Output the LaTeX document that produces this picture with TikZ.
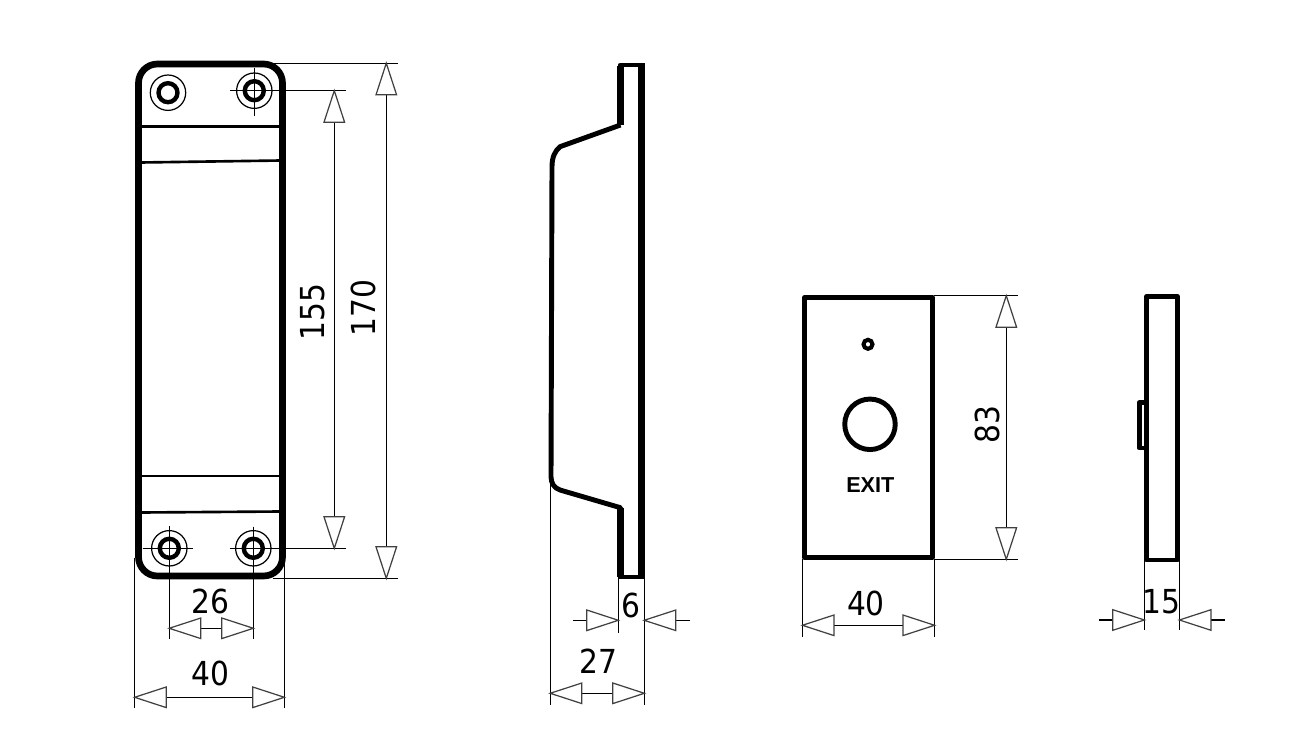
\documentclass[tikz,border=0pt]{standalone}
\usepackage{fontspec}
\setmainfont{DejaVu Sans Condensed}
\newfontfamily\exitfont{Liberation Sans}
\usepackage{tikz}
\usetikzlibrary{arrows.meta}

\begin{document}
\begin{tikzpicture}[scale=0.2,
  >={Triangle[open,length=19.5pt,width=12.5pt,color=black!75]},
  heavy/.style={line width=3.8pt,line join=round},
  medium/.style={line width=2.8pt,line join=round},
  rib/.style={line width=1.5pt},
  thin line/.style={line width=0.7pt},
  dim both/.style={thin line,<->,shorten >=-1.2pt,shorten <=-1.2pt},
  dim in/.style={thin line,->,shorten >=-1.2pt},
  dimtext/.style={font=\fontsize{18.8}{20}\selectfont}]
\tikzstyle{every node}+=[inner sep=0pt]
\useasboundingbox (0,0) rectangle (129,-74.7);
% anchor points of the dimensions
\coordinate (holeA) at (16.8,-9.27);
\coordinate (holeB) at (25.43,-9.07);
\coordinate (holeC) at (16.93,-54.83);
\coordinate (holeD) at (25.33,-54.83);
\coordinate (dimB) at (33.43,-9.07);
\coordinate (dimD) at (33.43,-54.83);
\coordinate (dimC) at (16.93,-62.83);
\coordinate (dimE) at (25.33,-62.83);
\coordinate (topA) at (38.63,-6.33);
\coordinate (topB) at (38.63,-57.83);
\coordinate (baseA) at (13.47,-69.73);
\coordinate (baseB) at (28.43,-69.73);
\coordinate (sideA) at (55.03,-69.33);
\coordinate (sideB) at (64.43,-69.33);
\coordinate (sideC) at (61.83,-62.03);
\coordinate (sideD) at (64.43,-62.03);
\coordinate (sideE) at (57.33,-62.03);
\coordinate (sideF) at (69,-62.03);
\coordinate (plateA) at (80.25,-62.53);
\coordinate (plateB) at (93.45,-62.53);
\coordinate (plateC) at (100.63,-29.57);
\coordinate (plateD) at (100.63,-55.93);
\coordinate (edgeA) at (114.43,-62);
\coordinate (edgeB) at (117.95,-62);
\coordinate (edgeC) at (109.93,-62);
\coordinate (edgeD) at (122.5,-62);
% long plate, front
\draw [heavy] (13.85,-8.3) arc (180:90:1.9) -- (26.35,-6.4) arc (90:0:1.9) -- (28.25,-55.7) arc (0:-90:1.9) -- (15.75,-57.6) arc (-90:-180:1.9) -- cycle;
\draw [rib] (14,-12.63) -- (28.1,-12.63);
\draw [rib] (14,-16.25) -- (28.1,-16.05);
\draw [rib] (14,-47.6) -- (28.1,-47.6);
\draw [rib] (14,-51.25) -- (28.1,-51.15);
\draw [thin line] (holeA) circle (1.77);
\draw [line width=2.5pt] (holeA) circle (0.95);
\draw [thin line] (holeB) circle (1.77);
\draw [line width=2.5pt] (holeB) circle (0.95);
\draw [thin line] (holeC) circle (1.77);
\draw [line width=2.5pt] (holeC) circle (0.95);
\draw [thin line] (holeD) circle (1.77);
\draw [line width=2.5pt] (holeD) circle (0.95);
\draw [thin line] (23,-9.07) -- (34.57,-9.07);
\draw [thin line] (25.43,-6.8) -- (25.43,-11.57);
\draw [thin line] (14.27,-54.83) -- (19.27,-54.83);
\draw [thin line] (16.93,-52.6) -- (16.93,-63.9);
\draw [thin line] (23,-54.83) -- (34.57,-54.83);
\draw [thin line] (25.33,-52.67) -- (25.33,-63.9);
\draw [thin line] (27,-6.33) -- (39.77,-6.33);
\draw [thin line] (27.3,-57.83) -- (39.77,-57.83);
\draw [thin line] (13.47,-55.77) -- (13.47,-70.83);
\draw [thin line] (28.43,-56.3) -- (28.43,-70.83);
\draw [dim both] (dimB) -- (dimD);
\draw [dim both] (topA) -- (topB);
\draw [dim both] (dimC) -- (dimE);
\draw [dim both] (baseA) -- (baseB);
\node [dimtext,rotate=90] (height155) at (31.3,-31.2) {155};
\node [dimtext,rotate=90] (height170) at (36.3,-30.8) {170};
\node [dimtext] (width26) at (21.07,-60.1) {26};
\node [dimtext] (width40) at (21.07,-67.3) {40};
% long plate, side
\draw [medium] (62.05,-12.5) -- (62.05,-6.5) -- (64.17,-6.5);
\draw [medium] (62.05,-57.7) -- (62.05,-50.77) -- (56,-49) .. controls (55.4,-48.8) and (55.1,-48.3) .. (55.1,-47.67) -- (55.2,-16.67) .. controls (55.2,-15.7) and (55.5,-15.1) .. (56,-14.67) -- (62.05,-12.5);
\draw [heavy] (62.05,-12.5) -- (62.05,-6.6);
\draw [heavy] (62.05,-50.77) -- (62.05,-57.7);
\draw [heavy] (64.17,-6.3) -- (64.17,-57.9);
\draw [medium] (61.75,-57.7) -- (64.45,-57.7);
\draw [thin line] (55.03,-47.6) -- (55.03,-70.5);
\draw [thin line] (64.43,-57.8) -- (64.43,-70.5);
\draw [thin line] (61.83,-57.8) -- (61.83,-63.27);
\draw [dim in] (sideE) -- (sideC);
\draw [dim in] (sideF) -- (sideD);
\draw [dim both] (sideA) -- (sideB);
\node [dimtext] (depth6) at (63.1,-60.5) {6};
\node [dimtext] (depth27) at (59.83,-66.17) {27};
% button plate, front
\draw [medium] (80.45,-29.77) rectangle (93.25,-55.72);
\node [draw,circle,line width=2.3pt,minimum size=0.18cm] (led) at (86.8,-34.43) {};
\node [draw,circle,line width=2.8pt,minimum size=1.01cm] (button) at (87,-42.43) {};
\node [font=\exitfont\fontsize{12.3}{13}\selectfont\bfseries] (exit) at (87.03,-48.5) {EXIT};
\draw [thin line] (93.4,-29.57) -- (101.8,-29.57);
\draw [thin line] (93.4,-55.93) -- (101.8,-55.93);
\draw [thin line] (80.25,-55.9) -- (80.25,-63.67);
\draw [thin line] (93.45,-55.9) -- (93.45,-63.67);
\draw [dim both] (plateC) -- (plateD);
\draw [dim both] (plateA) -- (plateB);
\node [dimtext,rotate=90] (height83) at (98.73,-42.43) {83};
\node [dimtext] (width40b) at (86.6,-60.33) {40};
% button plate, side
\draw [medium] (114.67,-29.67) rectangle (117.73,-56);
\draw [medium] (114.67,-40.27) -- (113.93,-40.27) -- (113.93,-44.8) -- (114.67,-44.8);
\draw [thin line] (114.43,-56) -- (114.43,-63);
\draw [thin line] (117.95,-56) -- (117.95,-63);
\draw [dim in] (edgeC) -- (edgeA);
\draw [dim in] (edgeD) -- (edgeB);
\node [dimtext] (depth15) at (116.17,-60.17) {15};
\end{tikzpicture}
\end{document}
